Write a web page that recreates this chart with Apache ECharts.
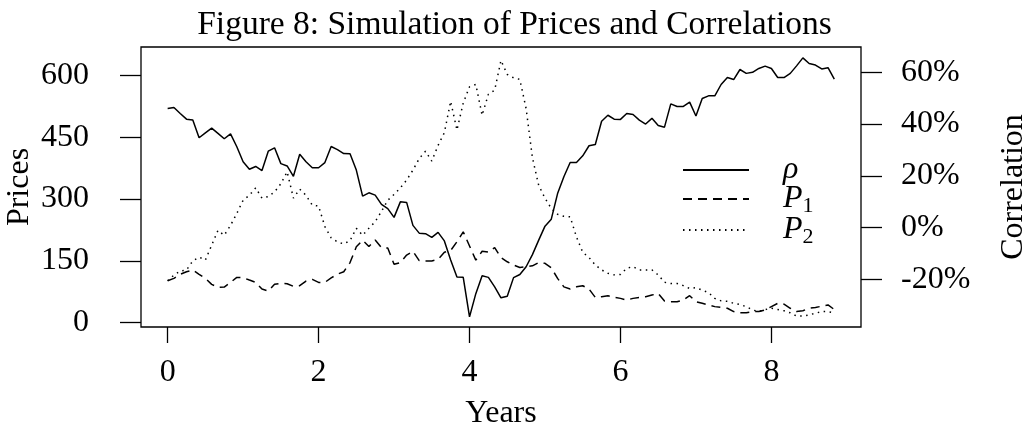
<!DOCTYPE html>
<html><head><meta charset="utf-8">
<script src="https://cdn.jsdelivr.net/npm/echarts@6/dist/echarts.min.js"></script>
<style>html,body{margin:0;padding:0;background:#fff}#c{width:1029px;height:429px}</style>
</head><body><div id="c"></div>
<script>
// Correlation rho (%), monthly from year 0
const rho = [46.0,46.4,44.1,41.9,41.6,34.7,36.6,38.4,36.4,34.3,36.2,31.2,25.4,22.5,23.6,22.0,29.5,30.8,24.7,23.8,
  19.8,28.3,25.4,23.1,23.1,25.1,31.3,30.1,28.6,28.5,22.2,12.1,13.4,12.5,8.9,7.3,3.9,9.9,9.7,0.8,
  -2.2,-2.4,-3.8,-1.9,-5.2,-12.6,-19.2,-19.3,-34.6,-25.6,-18.7,-19.3,-23.0,-27.2,-26.6,-19.4,-18.2,-15.2,-10.5,-4.9,
  0.5,3.2,13.1,19.6,25.1,25.1,27.7,31.6,32.1,41.1,43.4,41.9,41.8,44.1,43.7,41.5,40.0,42.2,39.4,38.8,
  47.8,46.8,46.8,48.5,43.1,49.9,50.9,50.9,55.3,58.0,57.2,61.1,59.6,60.0,61.5,62.4,61.5,58.0,58.0,59.6,
  62.5,65.6,63.4,62.8,61.3,61.8,57.4];
// Price P1
const p1 = [101.8,107.5,117.2,123.6,127.7,117.2,107.5,93,85.7,86.5,97.8,109.9,109.1,103.4,97.8,81.6,76.8,93,95.4,94.6,
  88.1,89.7,101,105.1,97.8,97.8,108.7,117.6,123.6,145.8,184,200,185,200.6,182,181,141.8,145.8,164,173.2,
  150.6,149.8,149.8,153.8,170.8,175.2,196.2,220.5,186,151.8,173.2,171.2,182.2,158,147.8,139.7,134,135.7,138,146,
  144,133,107.5,87,81.6,87,89.7,81.6,61.4,63,65.5,61.4,59,55,59,61.4,63,67,71,52.6,
  51,51,55,65.5,51,47,43,39,37,35,27,24,24,27,27,31,39,47,45,35,
  27,29,35,37,40,43,32];
// Price P2
const p2 = [101.8,115.5,125.3,127.7,150,159,152,188,224,212,236,265,297,309,327,302,306,317,337,366,
  302,324,309,285,283,233,206,196,191,199,229,212,229,245,270,297,311,327,346,370,
  398,416,392,430,461,537,467,533,572,578,503,554,564,636,602,594,590,519,400,333,
  302,277,263,258,257,208,171,158,140,128,120,116,117,132,136,128,128,128,116,98,
  95,95,90,83,85,79,73,59,53,52,47,44,39,31,27,32,35,32,29,24,
  16,16,19,23,27,27,24];
const xTicks = [0, 2, 4, 6, 8];
const priceTicks = [0, 150, 300, 450, 600];
const corrTicks = [-20, 0, 20, 40, 60];
const monthsPerYear = 12;
const years = rho.map((_, i) => i / monthsPerYear);
const pairs = arr => arr.map((v, i) => [years[i], v]);

const FONT = 'Liberation Serif';
const FS = 32;
const chart = echarts.init(document.getElementById('c'), null, {renderer: 'canvas'});
chart.setOption({
  animation: false,
  backgroundColor: '#fff',
  title: {
    text: 'Figure 8: Simulation of Prices and Correlations',
    left: 'center', top: 3,
    textStyle: {fontFamily: FONT, fontSize: 33.5, fontWeight: 'normal', color: '#000'}
  },
  grid: {left: 141, right: 168, top: 47, bottom: 102, show: true, borderColor: '#000', borderWidth: 1.3,
    containLabel: false, outerBoundsMode: 'none'},
  legend: {
    orient: 'vertical', left: 677, top: 149, itemWidth: 66, itemHeight: 25, itemGap: -3,
    data: ['ρ', 'P1', 'P2'],
    itemStyle: {opacity: 0},
    formatter: n => n === 'ρ' ? '{it|ρ}' : '{it|P}{sub|' + n.slice(1) + '}',
    textStyle: {fontFamily: FONT, fontSize: FS, color: '#000', padding: [0, 0, 0, 29],
      rich: {
        it: {fontFamily: FONT, fontStyle: 'italic', fontSize: FS, color: '#000'},
        sub: {fontFamily: FONT, fontSize: 22, color: '#000', padding: [14, 0, 0, 0]}
      }}
  },
  xAxis: {
    type: 'value', min: -0.353, max: 9.187,
    name: 'Years', nameLocation: 'middle', nameGap: 71, nameMoveOverlap: false,
    nameTextStyle: {fontFamily: FONT, fontSize: FS, color: '#000'},
    axisLine: {show: false, onZero: false},
    splitLine: {show: false},
    axisTick: {show: true, inside: false, length: 16, customValues: xTicks, lineStyle: {color: '#000', width: 1.3}},
    axisLabel: {customValues: xTicks, margin: 30, fontFamily: FONT, fontSize: FS, color: '#000'}
  },
  yAxis: [{
    type: 'value', min: -10.4, max: 668.6, position: 'left',
    name: 'Prices', nameLocation: 'middle', nameGap: 105, nameRotate: 90, nameMoveOverlap: false,
    nameTextStyle: {fontFamily: FONT, fontSize: FS, color: '#000'},
    axisLine: {show: false, onZero: false}, splitLine: {show: false},
    axisTick: {show: true, inside: false, length: 21, customValues: priceTicks, lineStyle: {color: '#000', width: 1.3}},
    axisLabel: {customValues: priceTicks, margin: 52, fontFamily: FONT, fontSize: FS, color: '#000'}
  }, {
    type: 'value', min: -38.5, max: 69.8, position: 'right',
    name: 'Correlation', nameLocation: 'middle', nameGap: 137, nameRotate: 90, nameMoveOverlap: false,
    nameTextStyle: {fontFamily: FONT, fontSize: FS, color: '#000'},
    axisLine: {show: false, onZero: false}, splitLine: {show: false},
    axisTick: {show: true, inside: false, length: 21, customValues: corrTicks, lineStyle: {color: '#000', width: 1.3}},
    axisLabel: {customValues: corrTicks, margin: 40, fontFamily: FONT, fontSize: FS, color: '#000',
      formatter: v => v + '%'}
  }],
  series: [
    {name: 'ρ', type: 'line', yAxisIndex: 1, data: pairs(rho), symbol: 'none', showSymbol: false,
      color: '#000', lineStyle: {color: '#000', width: 1.5, type: 'solid'}},
    {name: 'P1', type: 'line', yAxisIndex: 0, data: pairs(p1), symbol: 'none', showSymbol: false,
      color: '#000', lineStyle: {color: '#000', width: 1.5, type: [9, 6]}},
    {name: 'P2', type: 'line', yAxisIndex: 0, data: pairs(p2), symbol: 'none', showSymbol: false,
      color: '#000', lineStyle: {color: '#000', width: 1.5, type: [1.5, 4.5]}}
  ]
});
</script></body></html>
